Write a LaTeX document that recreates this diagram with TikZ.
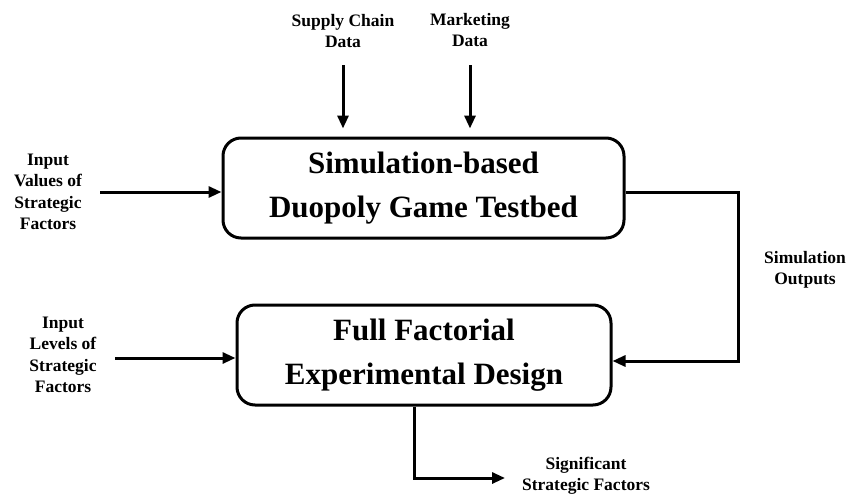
\documentclass[tikz,border=0pt]{standalone}
\usepackage{fontspec}
\setmainfont{Liberation Serif}
\usetikzlibrary{arrows.meta,calc}
\tikzset{
  box/.style={draw, line width=3pt, rounded corners=18pt, align=center,
    font=\bfseries\fontsize{31}{44}\selectfont, inner sep=0pt},
  lbl/.style={align=center, font=\bfseries\fontsize{17.5}{21.5}\selectfont, inner sep=0pt},
  arr/.style={line width=3pt, -{Triangle[length=13pt,width=11pt]}},
  ln/.style={line width=3pt}
}
\begin{document}
\begin{tikzpicture}[x=1pt,y=-1pt]
\useasboundingbox (0,0) rectangle (849,498);
\node[box, minimum width=401pt, minimum height=100pt] (b1) at (423.5,188) {Simulation-based\\Duopoly Game Testbed};
\node[box, minimum width=374pt, minimum height=100pt] (b2) at (424,355) {Full Factorial\\Experimental Design};

\node[lbl] (sc) at (343,31) {Supply Chain\\Data};
\node[lbl] (mk) at (470,30) {Marketing\\Data};
\node[lbl] (in1) at (48,192) {Input\\Values of\\Strategic\\Factors};
\node[lbl] (in2) at (63,355) {Input\\Levels of\\Strategic\\Factors};
\node[lbl] (so) at (805,270) {Simulation\\Outputs};
\node[lbl] (sf) at (586,476) {Significant\\Strategic Factors};

\coordinate (scs) at (343,65);
\coordinate (mks) at (470,65);
\coordinate (i1s) at (100,192);
\coordinate (i2s) at (115,358);
\coordinate (oc1) at (738,192);
\coordinate (oc2) at (738,361);
\coordinate (bc) at (414,478);
\coordinate (be) at (505,478);

\draw[arr, shorten >=8pt] (scs) -- (scs |- b1.north);
\draw[arr, shorten >=8pt] (mks) -- (mks |- b1.north);
\draw[arr] (i1s) -- (i1s -| b1.west);
\draw[arr] (i2s) -- (i2s -| b2.west);
\draw[arr] (oc1 -| b1.east) -- (oc1) -- (oc2) -- (oc2 -| b2.east);
\draw[arr] (bc |- b2.south) -- (bc) -- (be);
\end{tikzpicture}
\end{document}
